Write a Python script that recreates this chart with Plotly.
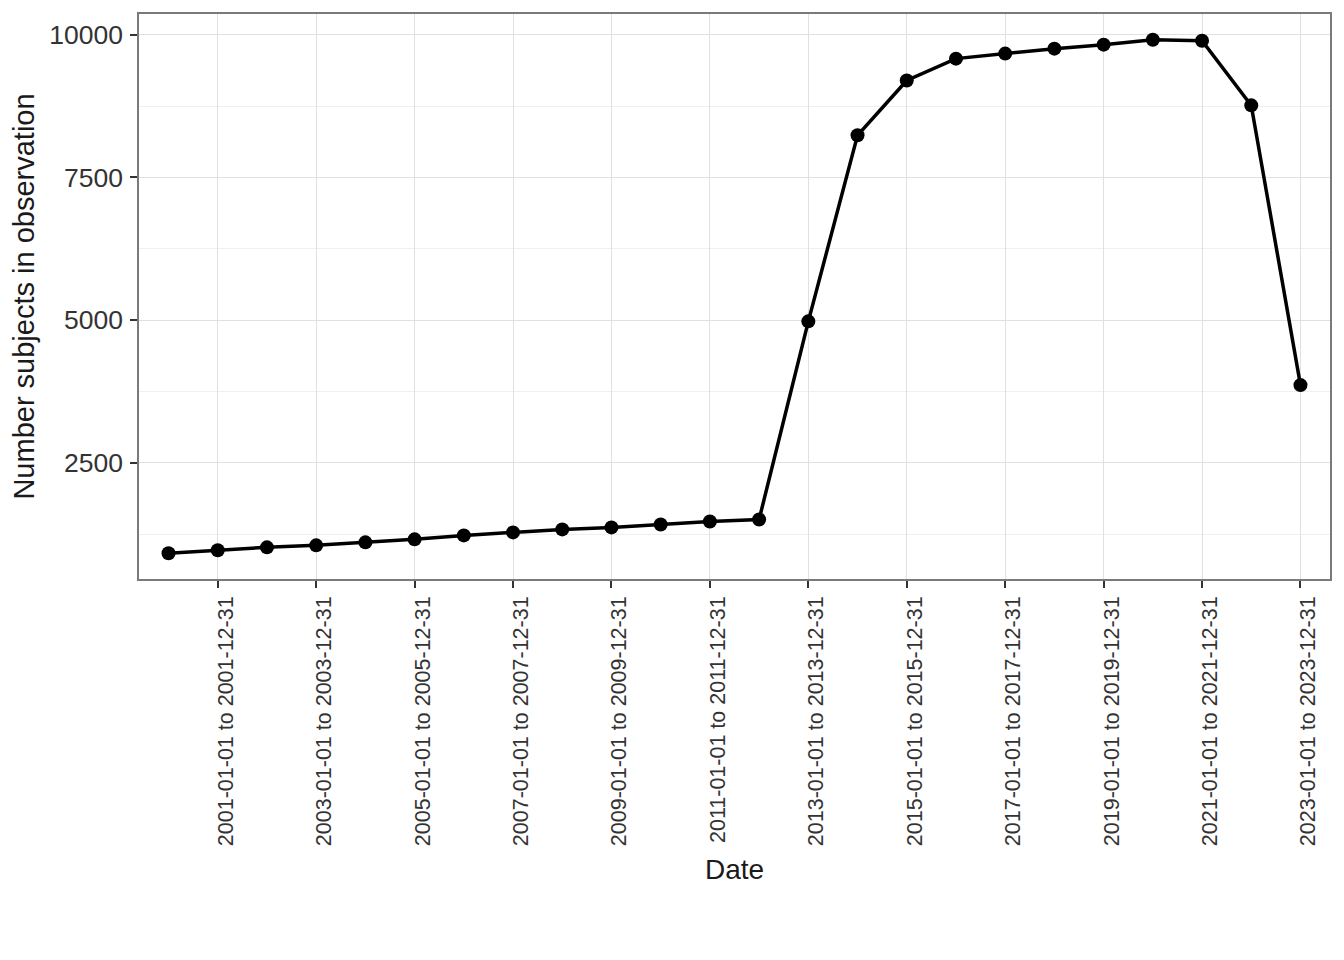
import plotly.graph_objects as go

# ── Data ──────────────────────────────────────────────────────────────────────
years = list(range(2000, 2024))
periods = [f"{y}-01-01 to {y}-12-31" for y in years]
subjects = [
    912, 965, 1017, 1052, 1104, 1157, 1226, 1279, 1331, 1366, 1418, 1470,
    1505, 4977, 8238, 9198, 9581, 9669, 9756, 9826, 9913, 9895, 8762, 3860,
]
label_periods = periods[1::2]
y_ticks = [2500, 5000, 7500, 10000]
y_minor = [1250, 3750, 6250, 8750]

# ggplot-like 5% expansion
lo, hi = min(subjects), max(subjects)
pad = (hi - lo) * 0.05

fig = go.Figure()
fig.add_trace(go.Scatter(
    x=periods, y=subjects,
    mode="lines+markers",
    line=dict(color="black", width=3.5),
    marker=dict(color="black", size=14),
    showlegend=False,
))

FONT = "Liberation Sans, Arial, sans-serif"
# page body adds an 8px offset, so size/margins are trimmed to match
fig.update_layout(
    width=1336, height=952,
    margin=dict(l=131, r=14, t=6, b=381),
    paper_bgcolor="white",
    plot_bgcolor="white",
    font=dict(family=FONT, color="#1a1a1a"),
    xaxis=dict(
        type="category",
        categoryorder="array", categoryarray=periods,
        range=[-0.6, len(periods) - 0.4],
        tickmode="array", tickvals=label_periods, ticktext=label_periods,
        tickangle=-90,
        tickfont=dict(size=21.5, color="#333333"),
        ticks="outside", ticklen=7, tickwidth=2, tickcolor="#333333",
        ticklabelstandoff=0, ticklabelshift=8,
        showgrid=True, gridcolor="#e0e0e0", gridwidth=1.3,
        showline=True, linecolor="#7a7a7a", linewidth=1.5, mirror=True,
        zeroline=False,
        title=dict(text="Date", font=dict(size=28, color="#1a1a1a"), standoff=14),
        automargin=False,
    ),
    yaxis=dict(
        range=[lo - pad, hi + pad],
        tickmode="array", tickvals=y_ticks, tickformat="d",
        tickfont=dict(size=26.5, color="#333333"),
        ticks="outside", ticklen=7, tickwidth=2, tickcolor="#333333",
        ticklabelstandoff=2,
        showgrid=True, gridcolor="#e0e0e0", gridwidth=1.3,
        minor=dict(tickvals=y_minor, showgrid=True, gridcolor="#efefef",
                   gridwidth=1, ticks=""),
        showline=True, linecolor="#7a7a7a", linewidth=1.5, mirror=True,
        zeroline=False,
        title=dict(text="Number subjects in observation",
                   font=dict(size=29, color="#1a1a1a"), standoff=6),
        automargin=False,
    ),
)

fig.write_html("out.html")
